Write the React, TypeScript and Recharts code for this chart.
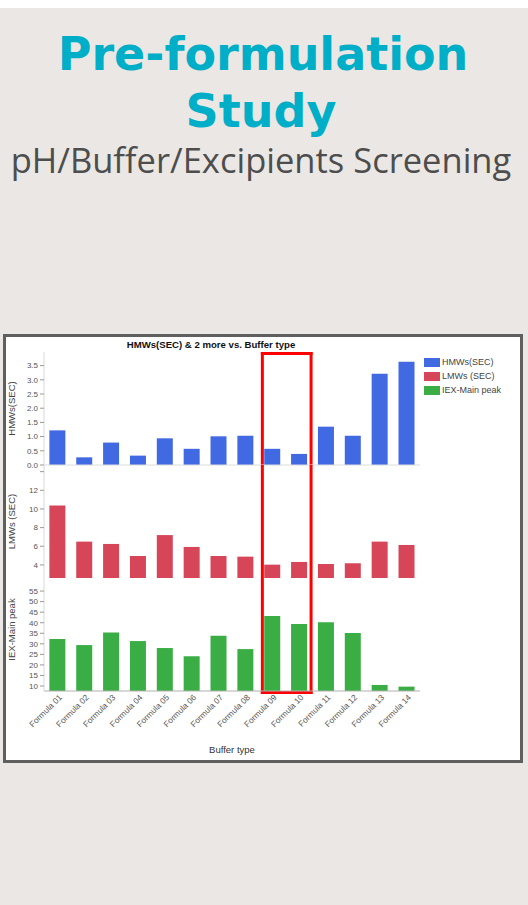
import React from 'react';
import { BarChart, Bar, XAxis, YAxis, ReferenceArea, ReferenceLine } from 'recharts';

const categories = ['Formula 01','Formula 02','Formula 03','Formula 04','Formula 05','Formula 06','Formula 07','Formula 08','Formula 09','Formula 10','Formula 11','Formula 12','Formula 13','Formula 14'];
const hmws = [1.22, 0.27, 0.79, 0.33, 0.94, 0.57, 1.01, 1.03, 0.57, 0.39, 1.35, 1.03, 3.21, 3.64];
const lmws = [10.36, 6.5, 6.25, 4.96, 7.2, 5.93, 4.96, 4.89, 4.03, 4.32, 4.1, 4.18, 6.5, 6.14];
const iex = [32.3, 29.4, 35.4, 31.3, 28.0, 24.1, 33.8, 27.5, 43.2, 39.4, 40.2, 35.1, 10.5, 9.7];

const hmwTicks = [0, 0.5, 1, 1.5, 2, 2.5, 3, 3.5];
const lmwTicks = [4, 6, 8, 10, 12, 14];
const iexTicks = [10, 15, 20, 25, 30, 35, 40, 45, 50, 55];
const highlighted = ['Formula 09', 'Formula 10'];

const seriesNames = ['HMWs(SEC)', 'LMWs (SEC)', 'IEX-Main peak'];
const seriesColors = ['#4169E1', '#D64658', '#3AAE44'];

const data = categories.map((c, i) => ({ name: c, hmw: hmws[i], lmw: lmws[i], iex: iex[i] }));

const CHART_W = 514;
const MARGIN = { top: 5, right: 100, bottom: 5, left: 0 };
const tickStyle = { fontSize: 8, fill: '#555', fontFamily: 'Liberation Sans, Arial, sans-serif' };
const labelStyle = { fontSize: 9.5, fill: '#444', fontFamily: 'Liberation Sans, Arial, sans-serif', textAnchor: 'middle' as const };

const XTick = (props: any) => {
  const { x, y, payload } = props;
  const ax = x + 5;
  const ay = y + 7;
  return (
    <text x={ax} y={ay} transform={`rotate(-45, ${ax}, ${ay})`} textAnchor="end" {...tickStyle} fontSize={8.3}>
      {payload.value}
    </text>
  );
};

const makeBoxShape = (top: boolean, bottom: boolean) => (p: any) => {
  const { x, y, width, height } = p;
  const l = x + 3.5;
  const r = x + width - 1.5;
  const t = y + 1.5;
  const b = y + height + 1.5;
  return (
    <g stroke="#FF0000" strokeWidth={3} fill="none">
      <line x1={l} y1={top ? t - 1.5 : y} x2={l} y2={bottom ? b + 1.5 : y + height} />
      <line x1={r} y1={top ? t - 1.5 : y} x2={r} y2={bottom ? b + 1.5 : y + height} />
      {top && <line x1={l - 1.5} y1={t} x2={r + 1.5} y2={t} />}
      {bottom && <line x1={l - 1.5} y1={b} x2={r + 1.5} y2={b} />}
    </g>
  );
};

const Frame = () => <ReferenceArea stroke="#dcdcdc" strokeWidth={1} fill="none" fillOpacity={0} ifOverflow="visible" />;

export default function App() {
  return (
    <div style={{ position: 'absolute', left: 0, top: 8, width: 528, height: 897, background: '#EBE7E4', overflow: 'hidden' }}>
      <svg width={528} height={200} style={{ position: 'absolute', left: 0, top: 0 }}>
        <text x={263} y={62} textAnchor="middle" fontFamily="DejaVu Sans" fontWeight="bold" fontSize={46} fill="#00AEC7">Pre-formulation</text>
        <text x={261} y={119} textAnchor="middle" fontFamily="DejaVu Sans" fontWeight="bold" fontSize={46} fill="#00AEC7">Study</text>
        <text x={261} y={165} textAnchor="middle" fontFamily="Open Sans" fontSize={34.5} fill="#4d4d4d">pH/Buffer/Excipients Screening</text>
      </svg>
      <div style={{ position: 'absolute', left: 3, top: 326, width: 520, height: 429, boxSizing: 'border-box', border: '3px solid #5f5f5f', background: '#fff' }}>
        <svg width={514} height={16} style={{ position: 'absolute', left: 0, top: 0 }}>
          <text x={205} y={11} textAnchor="middle" fontFamily="Liberation Sans, Arial, sans-serif" fontWeight="bold" fontSize={9.6} fill="#111">HMWs(SEC) &amp; 2 more vs. Buffer type</text>
        </svg>

        <div style={{ position: 'absolute', left: 0, top: 10 }}>
          <BarChart width={CHART_W} height={123} data={data} margin={MARGIN} barCategoryGap="20%">
            <XAxis dataKey="name" hide />
            <YAxis
              width={38}
              domain={[0, 3.98]}
              ticks={hmwTicks}
              interval={0}
              tickFormatter={(v: number) => v.toFixed(1)}
              tick={tickStyle}
              tickSize={4}
              tickMargin={2}
              axisLine={{ stroke: '#d8d8d8' }}
              tickLine={{ stroke: '#999' }}
              allowDataOverflow
              label={{ value: 'HMWs(SEC)', angle: -90, position: 'insideLeft', offset: 5.5, style: labelStyle }}
            />
            <Frame />
            <ReferenceLine y={0} stroke="#dcdcdc" />
            <Bar dataKey="hmw" name={seriesNames[0]} fill={seriesColors[0]} isAnimationActive={false} />
            <ReferenceArea x1={highlighted[0]} x2={highlighted[1]} ifOverflow="visible" shape={makeBoxShape(true, false)} />
          </BarChart>
        </div>

        <div style={{ position: 'absolute', left: 0, top: 123 }}>
          <BarChart width={CHART_W} height={123} data={data} margin={MARGIN} barCategoryGap="20%">
            <XAxis dataKey="name" hide />
            <YAxis
              width={38}
              domain={[2.6, 14.71]}
              ticks={lmwTicks}
              interval={0}
              tickFormatter={(v: number) => (v === 14 ? '' : String(v))}
              tick={tickStyle}
              tickSize={4}
              tickMargin={2}
              axisLine={{ stroke: '#d8d8d8' }}
              tickLine={{ stroke: '#999' }}
              allowDataOverflow
              label={{ value: 'LMWs (SEC)', angle: -90, position: 'insideLeft', offset: 5.5, style: labelStyle }}
            />
            <Frame />
            <Bar dataKey="lmw" name={seriesNames[1]} fill={seriesColors[1]} isAnimationActive={false} />
            <ReferenceArea x1={highlighted[0]} x2={highlighted[1]} ifOverflow="visible" shape={makeBoxShape(false, false)} />
          </BarChart>
        </div>

        <div style={{ position: 'absolute', left: 0, top: 236 }}>
          <BarChart width={CHART_W} height={187} data={data} margin={MARGIN} barCategoryGap="20%">
            <XAxis
              dataKey="name"
              interval={0}
              height={64}
              tick={<XTick />}
              tickSize={0}
              tickMargin={0}
              tickLine={false}
              axisLine={{ stroke: '#b0b0b0' }}
              label={{ value: 'Buffer type', position: 'insideBottom', offset: 2.5, style: { ...labelStyle, fill: '#333' } }}
            />
            <YAxis
              width={38}
              domain={[7.63, 61.2]}
              ticks={iexTicks}
              interval={0}
              tick={tickStyle}
              tickSize={4}
              tickMargin={2}
              axisLine={{ stroke: '#d8d8d8' }}
              tickLine={{ stroke: '#999' }}
              allowDataOverflow
              label={{ value: 'IEX-Main peak', angle: -90, position: 'insideLeft', offset: 5.5, dy: -5, style: labelStyle }}
            />
            <Frame />
            <Bar dataKey="iex" name={seriesNames[2]} fill={seriesColors[2]} isAnimationActive={false} />
            <ReferenceArea x1={highlighted[0]} x2={highlighted[1]} ifOverflow="visible" shape={makeBoxShape(false, true)} />
          </BarChart>
        </div>

        <div style={{ position: 'absolute', left: 418, top: 18 }}>
          {seriesNames.map((n, i) => (
            <div key={n} style={{ display: 'flex', alignItems: 'center', height: 14, fontFamily: 'Liberation Sans, Arial, sans-serif', fontSize: 9, color: '#444' }}>
              <span style={{ display: 'inline-block', width: 16, height: 9, background: seriesColors[i], marginRight: 2 }} />
              <span>{n}</span>
            </div>
          ))}
        </div>
      </div>
    </div>
  );
}
